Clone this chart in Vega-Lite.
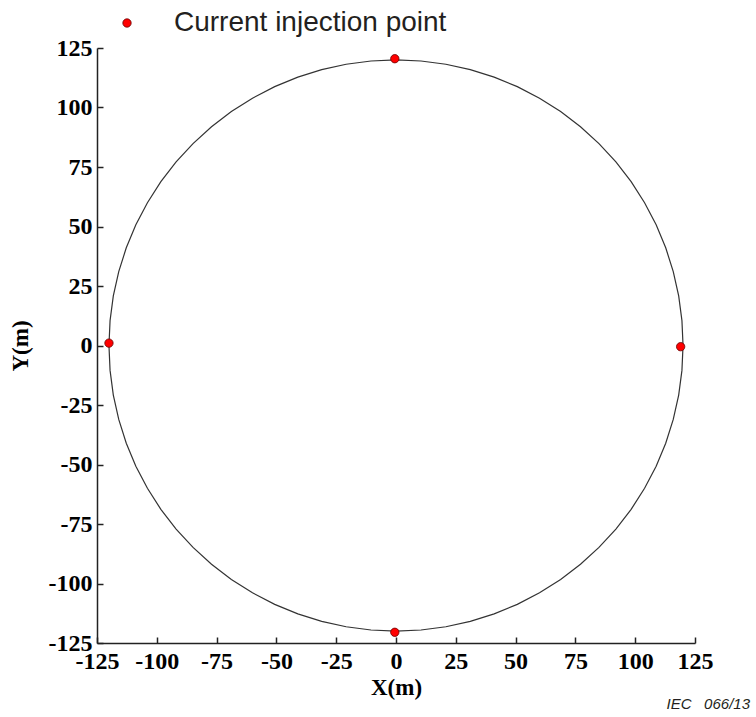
{
  "$schema": "https://vega.github.io/schema/vega-lite/v6.json",
  "autosize": {"type": "none"},
  "width": 598,
  "height": 595,
  "padding": {"left": 97, "top": 48, "right": 61, "bottom": 74},
  "background": "white",
  "title": {
    "text": "IEC\u00a0\u00a0\u00a0066/13",
    "orient": "bottom",
    "anchor": "end",
    "font": "Liberation Sans",
    "fontStyle": "italic",
    "fontWeight": "normal",
    "fontSize": 15,
    "color": "#231f20",
    "dx": 37,
    "offset": -2
  },
  "config": {
    "view": {"stroke": null},
    "axis": {
      "labelFont": "Liberation Serif",
      "labelFontWeight": "bold",
      "labelFontSize": 24,
      "labelColor": "#000",
      "titleFont": "Liberation Serif",
      "titleFontWeight": "bold",
      "titleFontSize": 23,
      "titleColor": "#000",
      "domainColor": "#222",
      "domainWidth": 1.5,
      "tickColor": "#222",
      "tickWidth": 1.5,
      "tickSize": -6,
      "grid": false,
      "labelExpr": "toString(datum.value)"
    }
  },
  "datasets": {
    "circle": [
      {"a": 0, "x": 120, "y": 0},
      {"a": 5, "x": 119.54, "y": 10.46},
      {"a": 10, "x": 118.18, "y": 20.84},
      {"a": 15, "x": 115.91, "y": 31.06},
      {"a": 20, "x": 112.76, "y": 41.04},
      {"a": 25, "x": 108.76, "y": 50.71},
      {"a": 30, "x": 103.92, "y": 60},
      {"a": 35, "x": 98.3, "y": 68.83},
      {"a": 40, "x": 91.93, "y": 77.13},
      {"a": 45, "x": 84.85, "y": 84.85},
      {"a": 50, "x": 77.13, "y": 91.93},
      {"a": 55, "x": 68.83, "y": 98.3},
      {"a": 60, "x": 60, "y": 103.92},
      {"a": 65, "x": 50.71, "y": 108.76},
      {"a": 70, "x": 41.04, "y": 112.76},
      {"a": 75, "x": 31.06, "y": 115.91},
      {"a": 80, "x": 20.84, "y": 118.18},
      {"a": 85, "x": 10.46, "y": 119.54},
      {"a": 90, "x": 0, "y": 120},
      {"a": 95, "x": -10.46, "y": 119.54},
      {"a": 100, "x": -20.84, "y": 118.18},
      {"a": 105, "x": -31.06, "y": 115.91},
      {"a": 110, "x": -41.04, "y": 112.76},
      {"a": 115, "x": -50.71, "y": 108.76},
      {"a": 120, "x": -60, "y": 103.92},
      {"a": 125, "x": -68.83, "y": 98.3},
      {"a": 130, "x": -77.13, "y": 91.93},
      {"a": 135, "x": -84.85, "y": 84.85},
      {"a": 140, "x": -91.93, "y": 77.13},
      {"a": 145, "x": -98.3, "y": 68.83},
      {"a": 150, "x": -103.92, "y": 60},
      {"a": 155, "x": -108.76, "y": 50.71},
      {"a": 160, "x": -112.76, "y": 41.04},
      {"a": 165, "x": -115.91, "y": 31.06},
      {"a": 170, "x": -118.18, "y": 20.84},
      {"a": 175, "x": -119.54, "y": 10.46},
      {"a": 180, "x": -120, "y": 0},
      {"a": 185, "x": -119.54, "y": -10.46},
      {"a": 190, "x": -118.18, "y": -20.84},
      {"a": 195, "x": -115.91, "y": -31.06},
      {"a": 200, "x": -112.76, "y": -41.04},
      {"a": 205, "x": -108.76, "y": -50.71},
      {"a": 210, "x": -103.92, "y": -60},
      {"a": 215, "x": -98.3, "y": -68.83},
      {"a": 220, "x": -91.93, "y": -77.13},
      {"a": 225, "x": -84.85, "y": -84.85},
      {"a": 230, "x": -77.13, "y": -91.93},
      {"a": 235, "x": -68.83, "y": -98.3},
      {"a": 240, "x": -60, "y": -103.92},
      {"a": 245, "x": -50.71, "y": -108.76},
      {"a": 250, "x": -41.04, "y": -112.76},
      {"a": 255, "x": -31.06, "y": -115.91},
      {"a": 260, "x": -20.84, "y": -118.18},
      {"a": 265, "x": -10.46, "y": -119.54},
      {"a": 270, "x": 0, "y": -120},
      {"a": 275, "x": 10.46, "y": -119.54},
      {"a": 280, "x": 20.84, "y": -118.18},
      {"a": 285, "x": 31.06, "y": -115.91},
      {"a": 290, "x": 41.04, "y": -112.76},
      {"a": 295, "x": 50.71, "y": -108.76},
      {"a": 300, "x": 60, "y": -103.92},
      {"a": 305, "x": 68.83, "y": -98.3},
      {"a": 310, "x": 77.13, "y": -91.93},
      {"a": 315, "x": 84.85, "y": -84.85},
      {"a": 320, "x": 91.93, "y": -77.13},
      {"a": 325, "x": 98.3, "y": -68.83},
      {"a": 330, "x": 103.92, "y": -60},
      {"a": 335, "x": 108.76, "y": -50.71},
      {"a": 340, "x": 112.76, "y": -41.04},
      {"a": 345, "x": 115.91, "y": -31.06},
      {"a": 350, "x": 118.18, "y": -20.84},
      {"a": 355, "x": 119.54, "y": -10.46},
      {"a": 360, "x": 120, "y": 0}
    ],
    "pts": [
      {"x": -0.5, "y": 120.5, "kind": "Current injection point"},
      {"x": -120, "y": 1, "kind": "Current injection point"},
      {"x": 119, "y": -0.5, "kind": "Current injection point"},
      {"x": -0.5, "y": -120.5, "kind": "Current injection point"}
    ]
  },
  "layer": [
    {
      "data": {"name": "circle"},
      "mark": {"type": "line", "color": "#333", "strokeWidth": 1.2},
      "encoding": {
        "x": {"field": "x", "type": "quantitative", "scale": {"domain": [-125, 125], "nice": false, "zero": false},
              "axis": {"values": [-125, -100, -75, -50, -25, 0, 25, 50, 75, 100, 125], "title": "X(m)", "labelPadding": 12, "titlePadding": 3, "labelFlush": false}},
        "y": {"field": "y", "type": "quantitative", "scale": {"domain": [-125, 125], "nice": false, "zero": false},
              "axis": {"values": [-125, -100, -75, -50, -25, 0, 25, 50, 75, 100, 125], "title": "Y(m)", "labelPadding": 11, "titlePadding": 16, "labelFlush": false}},
        "order": {"field": "a", "type": "quantitative"}
      }
    },
    {
      "data": {"name": "pts"},
      "mark": {"type": "point", "filled": true, "size": 70, "stroke": "#600", "strokeWidth": 0.8, "opacity": 1},
      "encoding": {
        "x": {"field": "x", "type": "quantitative"},
        "y": {"field": "y", "type": "quantitative"},
        "color": {
          "field": "kind",
          "type": "nominal",
          "scale": {"domain": ["Current injection point"], "range": ["#ff0000"]},
          "legend": {
            "title": null,
            "orient": "none",
            "legendX": 16,
            "legendY": -39,
            "labelFont": "Liberation Sans",
            "labelFontSize": 28,
            "labelColor": "#231f20",
            "labelOffset": 33,
            "labelLimit": 0,
            "symbolSize": 70,
            "symbolStrokeColor": "#600",
            "symbolStrokeWidth": 0.8
          }
        }
      }
    }
  ]
}
